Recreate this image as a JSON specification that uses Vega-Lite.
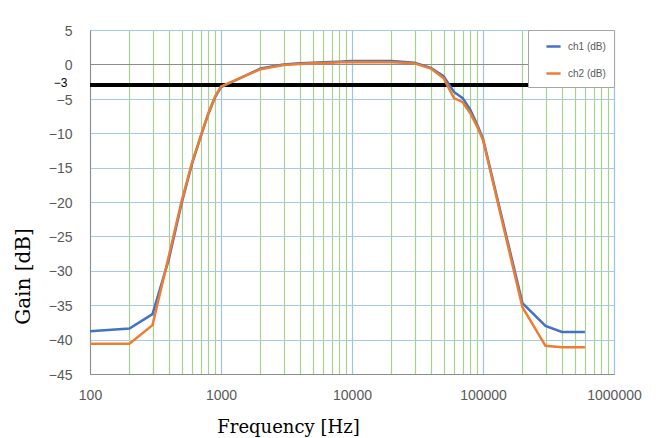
{
  "$schema": "https://vega.github.io/schema/vega-lite/v6.json",
  "width": 524,
  "height": 344,
  "autosize": {"type": "none"},
  "padding": {"left": 90, "top": 30, "right": 45, "bottom": 64},
  "background": "white",
  "config": {"view": {"stroke": "#8c8c8c", "strokeWidth": 1}, "font": "Liberation Sans"},
  "data": {"values": [
    {"freq": 100, "ch": "ch1 (dB)", "gain": -38.8},
    {"freq": 200, "ch": "ch1 (dB)", "gain": -38.4},
    {"freq": 300, "ch": "ch1 (dB)", "gain": -36.3},
    {"freq": 400, "ch": "ch1 (dB)", "gain": -28.3},
    {"freq": 500, "ch": "ch1 (dB)", "gain": -20.2},
    {"freq": 600, "ch": "ch1 (dB)", "gain": -14.5},
    {"freq": 700, "ch": "ch1 (dB)", "gain": -10.5},
    {"freq": 800, "ch": "ch1 (dB)", "gain": -7.2},
    {"freq": 900, "ch": "ch1 (dB)", "gain": -4.8},
    {"freq": 1000, "ch": "ch1 (dB)", "gain": -3.3},
    {"freq": 2000, "ch": "ch1 (dB)", "gain": -0.6},
    {"freq": 3000, "ch": "ch1 (dB)", "gain": 0.0},
    {"freq": 4000, "ch": "ch1 (dB)", "gain": 0.15},
    {"freq": 5000, "ch": "ch1 (dB)", "gain": 0.25},
    {"freq": 6000, "ch": "ch1 (dB)", "gain": 0.3},
    {"freq": 7000, "ch": "ch1 (dB)", "gain": 0.35},
    {"freq": 8000, "ch": "ch1 (dB)", "gain": 0.4},
    {"freq": 9000, "ch": "ch1 (dB)", "gain": 0.45},
    {"freq": 10000, "ch": "ch1 (dB)", "gain": 0.5},
    {"freq": 20000, "ch": "ch1 (dB)", "gain": 0.5},
    {"freq": 30000, "ch": "ch1 (dB)", "gain": 0.25},
    {"freq": 40000, "ch": "ch1 (dB)", "gain": -0.5},
    {"freq": 50000, "ch": "ch1 (dB)", "gain": -1.7},
    {"freq": 60000, "ch": "ch1 (dB)", "gain": -4.0},
    {"freq": 70000, "ch": "ch1 (dB)", "gain": -4.9},
    {"freq": 80000, "ch": "ch1 (dB)", "gain": -6.6},
    {"freq": 90000, "ch": "ch1 (dB)", "gain": -8.7},
    {"freq": 100000, "ch": "ch1 (dB)", "gain": -10.8},
    {"freq": 200000, "ch": "ch1 (dB)", "gain": -34.7},
    {"freq": 300000, "ch": "ch1 (dB)", "gain": -38.0},
    {"freq": 400000, "ch": "ch1 (dB)", "gain": -38.9},
    {"freq": 600000, "ch": "ch1 (dB)", "gain": -38.9},
    {"freq": 100, "ch": "ch2 (dB)", "gain": -40.6},
    {"freq": 200, "ch": "ch2 (dB)", "gain": -40.6},
    {"freq": 300, "ch": "ch2 (dB)", "gain": -37.9},
    {"freq": 400, "ch": "ch2 (dB)", "gain": -27.8},
    {"freq": 500, "ch": "ch2 (dB)", "gain": -19.9},
    {"freq": 600, "ch": "ch2 (dB)", "gain": -14.3},
    {"freq": 700, "ch": "ch2 (dB)", "gain": -10.4},
    {"freq": 800, "ch": "ch2 (dB)", "gain": -7.1},
    {"freq": 900, "ch": "ch2 (dB)", "gain": -4.7},
    {"freq": 1000, "ch": "ch2 (dB)", "gain": -3.2},
    {"freq": 2000, "ch": "ch2 (dB)", "gain": -0.7},
    {"freq": 3000, "ch": "ch2 (dB)", "gain": -0.1},
    {"freq": 4000, "ch": "ch2 (dB)", "gain": 0.05},
    {"freq": 5000, "ch": "ch2 (dB)", "gain": 0.15},
    {"freq": 6000, "ch": "ch2 (dB)", "gain": 0.2},
    {"freq": 7000, "ch": "ch2 (dB)", "gain": 0.25},
    {"freq": 8000, "ch": "ch2 (dB)", "gain": 0.3},
    {"freq": 9000, "ch": "ch2 (dB)", "gain": 0.3},
    {"freq": 10000, "ch": "ch2 (dB)", "gain": 0.35},
    {"freq": 20000, "ch": "ch2 (dB)", "gain": 0.3},
    {"freq": 30000, "ch": "ch2 (dB)", "gain": 0.15},
    {"freq": 40000, "ch": "ch2 (dB)", "gain": -0.6},
    {"freq": 50000, "ch": "ch2 (dB)", "gain": -2.0},
    {"freq": 60000, "ch": "ch2 (dB)", "gain": -4.9},
    {"freq": 70000, "ch": "ch2 (dB)", "gain": -5.5},
    {"freq": 80000, "ch": "ch2 (dB)", "gain": -7.1},
    {"freq": 90000, "ch": "ch2 (dB)", "gain": -9.0},
    {"freq": 100000, "ch": "ch2 (dB)", "gain": -11.0},
    {"freq": 200000, "ch": "ch2 (dB)", "gain": -35.3},
    {"freq": 300000, "ch": "ch2 (dB)", "gain": -40.9},
    {"freq": 400000, "ch": "ch2 (dB)", "gain": -41.1},
    {"freq": 600000, "ch": "ch2 (dB)", "gain": -41.1}
  ]},
  "layer": [
    {
      "mark": {"type": "rule", "color": "black", "strokeWidth": 2.5},
      "encoding": {"y": {"datum": -3, "type": "quantitative",
          "scale": {"domain": [-45, 5], "nice": false},
          "axis": {
            "title": "Gain [dB]",
            "values": [5,0,-3,-5,-10,-15,-20,-25,-30,-35,-40,-45],
            "ticks": false,
            "labelOverlap": false,
            "labelFontSize": {"condition": {"test": "datum.value == -3", "value": 12}, "value": 14},
            "labelOffset": {"condition": [{"test": "datum.value == -3", "value": -3}, {"test": "datum.value == -5", "value": 2}], "value": 1},
            "labelPadding": {"condition": {"test": "datum.value == -3", "value": 23}, "value": 18},
            "labelColor": {"condition": {"test": "datum.value == -3", "value": "#000000"}, "value": "#595959"},
            "grid": true,
            "gridWidth": 1.2,
            "gridColor": {"condition": {"test": "datum.value == 0", "value": "#8c8c8c"}, "value": "#a8c8e8"},
            "domainColor": "#8c8c8c",
            "titleFont": "DejaVu Serif",
            "titleFontSize": 20,
            "titleFontWeight": "normal",
            "titleColor": "black",
            "titleAngle": 270,
            "titleX": -67,
            "titleY": 246,
            "titleAlign": "center",
            "titleBaseline": "middle"
          }}}
    },
    {
      "mark": {"type": "line", "strokeWidth": 2.5},
      "encoding": {
        "x": {
          "field": "freq", "type": "quantitative",
          "scale": {"type": "log", "domain": [100, 1000000], "nice": false},
          "axis": {
            "title": "Frequency [Hz]",
            "values": [100,200,300,400,500,600,700,800,900,1000,2000,3000,4000,5000,6000,7000,8000,9000,10000,20000,30000,40000,50000,60000,70000,80000,90000,100000,200000,300000,400000,500000,600000,700000,800000,900000,1000000],
            "labelExpr": "abs(log(datum.value)/LN10 - round(log(datum.value)/LN10)) < 0.001 ? format(datum.value, 'd') : ''",
            "ticks": false,
            "labelOverlap": false,
            "labelFlush": false,
            "labelFontSize": 14,
            "labelColor": "#595959",
            "labelPadding": 14,
            "gridWidth": 1.2,
            "gridColor": {"condition": {"test": "abs(log(datum.value)/LN10 - round(log(datum.value)/LN10)) < 0.001", "value": "#9dc3e6"}, "value": "#a9d18e"},
            "domainColor": "#8c8c8c",
            "titleFont": "DejaVu Serif",
            "titleFontSize": 18,
            "titleFontWeight": "normal",
            "titleColor": "black",
            "titleX": 198,
            "titleY": 53,
            "titleAlign": "center",
            "titleBaseline": "middle"
          }
        },
        "y": {
          "field": "gain", "type": "quantitative",
          "scale": {"domain": [-45, 5], "nice": false},
          "axis": {
            "title": "Gain [dB]",
            "values": [5,0,-3,-5,-10,-15,-20,-25,-30,-35,-40,-45],
            "ticks": false,
            "labelOverlap": false,
            "labelFontSize": {"condition": {"test": "datum.value == -3", "value": 12}, "value": 14},
            "labelOffset": {"condition": [{"test": "datum.value == -3", "value": -3}, {"test": "datum.value == -5", "value": 2}], "value": 1},
            "labelPadding": {"condition": {"test": "datum.value == -3", "value": 23}, "value": 18},
            "labelColor": {"condition": {"test": "datum.value == -3", "value": "#000000"}, "value": "#595959"},
            "grid": true,
            "gridWidth": 1.2,
            "gridColor": {"condition": {"test": "datum.value == 0", "value": "#8c8c8c"}, "value": "#a8c8e8"},
            "domainColor": "#8c8c8c",
            "titleFont": "DejaVu Serif",
            "titleFontSize": 20,
            "titleFontWeight": "normal",
            "titleColor": "black",
            "titleAngle": 270,
            "titleX": -67,
            "titleY": 246,
            "titleAlign": "center",
            "titleBaseline": "middle"
          }
        },
        "color": {
          "field": "ch", "type": "nominal",
          "scale": {"domain": ["ch1 (dB)", "ch2 (dB)"], "range": ["#4472c4", "#ed7d31"]},
          "legend": {
            "title": null,
            "orient": "top-right",
            "offset": 0,
            "fillColor": "white",
            "strokeColor": "#a6a6a6",
            "padding": 8,
            "rowPadding": 13,
            "symbolType": "stroke",
            "symbolStrokeWidth": 2.5,
            "symbolSize": 200,
            "symbolOffset": 9,
            "labelFontSize": 10,
            "labelColor": "#595959",
            "labelOffset": 6
          }
        }
      }
    }
  ]
}
